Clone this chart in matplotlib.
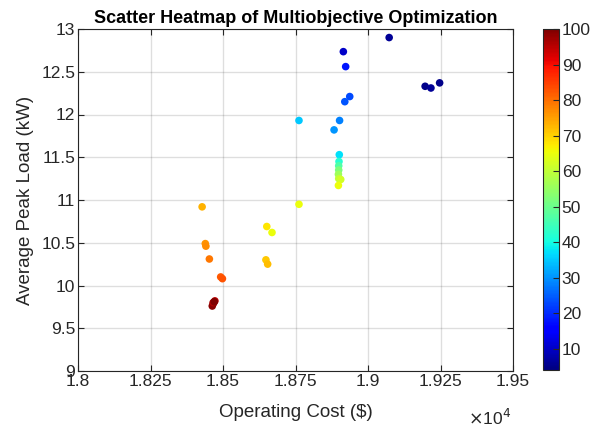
import matplotlib
matplotlib.use("Agg")
import matplotlib.pyplot as plt
import numpy as np

plt.rcParams['font.family'] = ['Liberation Sans', 'DejaVu Sans']

# Data (cost in $, peak load in kW, color value)
cost = [19073, 18915, 18923, 18937, 18920, 18902, 18883,
        19197, 19217, 19247,
        18762,
        18901, 18900, 18899, 18899, 18898, 18899, 18906, 18898,
        18762,
        18428, 18651, 18669, 18439, 18441, 18453, 18648, 18654,
        18492, 18498,
        18472, 18467, 18463, 18466, 18470]
peak = [12.90, 12.735, 12.56, 12.21, 12.15, 11.93, 11.82,
        12.33, 12.31, 12.37,
        11.93,
        11.53, 11.45, 11.40, 11.35, 11.30, 11.25, 11.24, 11.17,
        10.95,
        10.92, 10.69, 10.62, 10.49, 10.46, 10.31, 10.30, 10.25,
        10.10, 10.08,
        9.82, 9.79, 9.76, 9.80, 9.81]
value = [6, 10, 18, 23, 24, 28, 30,
         5, 6, 5,
         35,
         37, 42, 47, 52, 56, 60, 62, 65,
         65,
         73, 68, 65, 76, 77, 79, 71, 72,
         82, 83,
         95, 97, 99, 96, 100]

x_ticks = [1.8, 1.825, 1.85, 1.875, 1.9, 1.925, 1.95]
x_ticklabels = ['1.8', '1.825', '1.85', '1.875', '1.9', '1.925', '1.95']
y_ticks = [9, 9.5, 10, 10.5, 11, 11.5, 12, 12.5, 13]
y_ticklabels = ['9', '9.5', '10', '10.5', '11', '11.5', '12', '12.5', '13']
cbar_ticks = [10, 20, 30, 40, 50, 60, 70, 80, 90, 100]

fig = plt.figure(figsize=(6.07, 4.32), dpi=100)
W, H = 607, 432
ax = fig.add_axes([78 / W, 1 - 371 / H, (513 - 78) / W, (371 - 29) / H])
cax = fig.add_axes([543 / W, 1 - 370 / H, 16 / W, (370 - 29) / H])

tc = (0.15, 0.15, 0.15)
xs = np.array(cost) / 1e4
sc = ax.scatter(xs, peak, c=value, cmap='jet', vmin=4, vmax=100, s=30,
                edgecolors='none', zorder=3)

ax.set_xlim(1.8, 1.95)
ax.set_ylim(9, 13)
ax.set_xticks(x_ticks)
ax.set_xticklabels(x_ticklabels)
ax.set_yticks(y_ticks)
ax.set_yticklabels(y_ticklabels)
ax.grid(True, color=(0.15, 0.15, 0.15), alpha=0.15, linewidth=1.0)
ax.set_axisbelow(True)
ax.tick_params(direction='in', top=True, right=True, length=4, width=0.8,
               colors=tc, labelsize=12.5, labelcolor=tc, pad=2)
for sp in ax.spines.values():
    sp.set_color(tc)
    sp.set_linewidth(0.8)

ax.set_xlabel('Operating Cost ($)', fontsize=13.5, color=tc, labelpad=11)
ax.set_ylabel('Average Peak Load (kW)', fontsize=13.5, color=tc, labelpad=5)
ax.set_title('Scatter Heatmap of Multiobjective Optimization', fontsize=13,
             fontweight='bold', color='black', pad=4)
fig.text(490 / W, 1 - 418 / H, r'$\times$10$^4$', fontsize=12.5, color=tc,
         ha='center', va='center')

cb = fig.colorbar(sc, cax=cax, ticks=cbar_ticks)
cb.ax.tick_params(direction='in', length=4, width=0.8, colors=tc,
                  labelsize=12.5, labelcolor=tc, pad=2)
cb.outline.set_edgecolor(tc)
cb.outline.set_linewidth(0.8)

fig.savefig('out.png', dpi=100)
